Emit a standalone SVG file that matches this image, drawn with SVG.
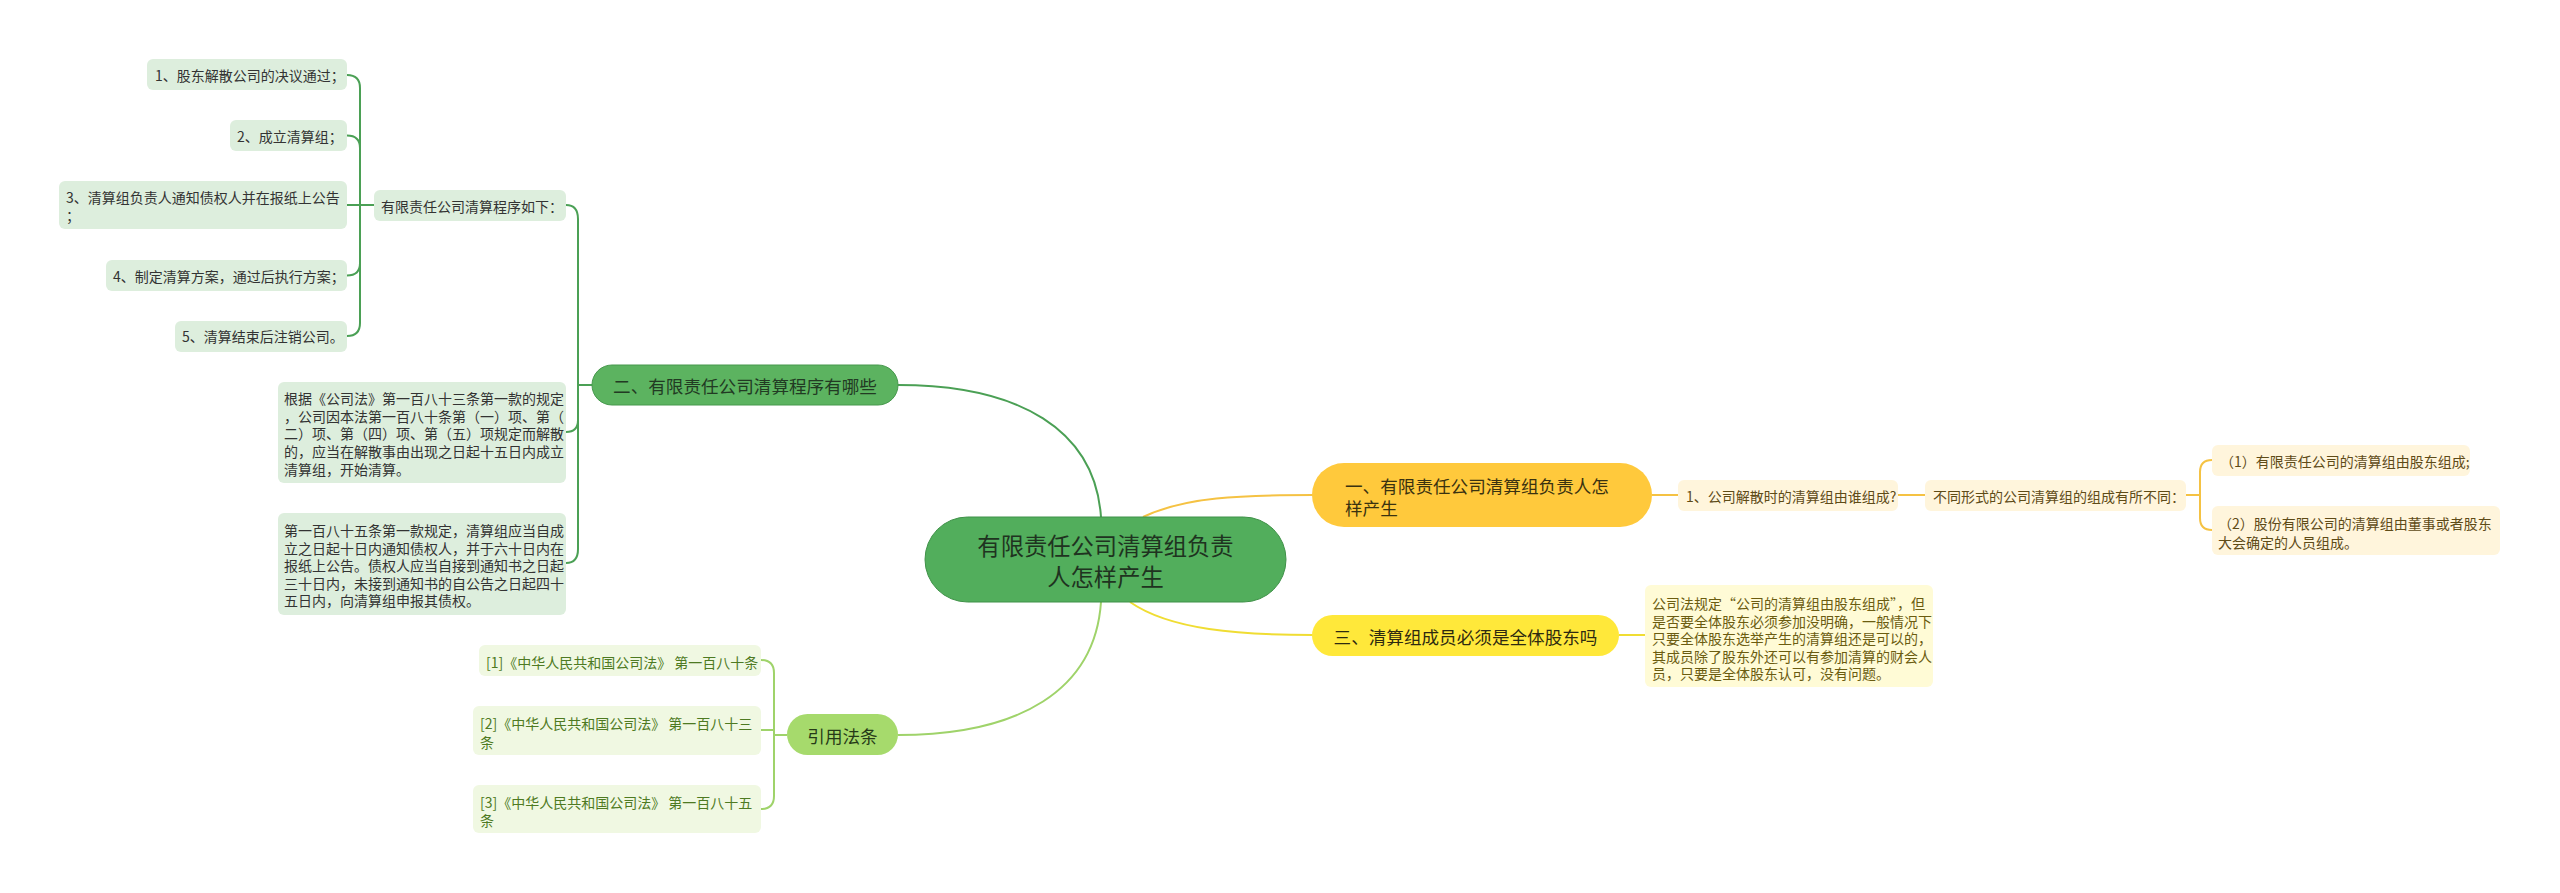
<svg xmlns="http://www.w3.org/2000/svg" width="2560" height="893" viewBox="0 0 2560 893">
<style>
text{font-family:"Noto Sans CJK SC","Noto Sans",sans-serif;dominant-baseline:central}
.s{font-size:14px}
.m{font-size:17.6px}
.g{fill:#333}
.lg{fill:#ddeedd}
.cr{fill:#fff5dc}
.ly{fill:#fffbd6}
.lgn{fill:#f0f8e2}
.tb{fill:#5e4b17}
.to{fill:#6b5c10}
.tg{fill:#4e7a22}
.cg{fill:none;stroke:#4ba055;stroke-width:2}
.co{fill:none;stroke:#f5c243;stroke-width:2}
.cy{fill:none;stroke:#f0dd33;stroke-width:2}
.cl{fill:none;stroke:#9fd36a;stroke-width:2}
</style>
<rect width="2560" height="893" fill="#ffffff"/>
<g id="connectors">
<path class="cg" d="M898,385 C1020,385 1095,430 1101,517"/>
<path class="cl" d="M898,735 C1020,735 1095,690 1101,602"/>
<path class="co" d="M1143,517 C1185,497 1240,495 1313,495"/>
<path class="cy" d="M1130,602 C1170,630 1240,635 1313,635"/>
<path class="cg" d="M578,385 L592,385 M566,205 Q578,205 578,219 L578,549 Q578,563 566,563 M566,432 Q578,432 578,420"/>
<path class="cg" d="M360,205 L374,205 M347,75 Q360,75 360,88 L360,323 Q360,336 347,336 M347,135.5 Q360,135.5 360,148 M347,275.5 Q360,275.5 360,263 M347,205 L360,205"/>
<path class="cl" d="M774,735 L787,735 M761,660 Q774,660 774,673 L774,796 Q774,809 761,809 M761,730 L774,730"/>
<path class="co" d="M1652,495 L1678,495 M1898,495 L1925,495 M2186,495 L2200,495 M2212,460 Q2200,460 2200,472 L2200,518 Q2200,530 2212,530"/>
<path class="cy" d="M1619,635 L1645,635"/>
</g>
<g id="root">
<rect x="925" y="517" width="361" height="85" rx="42.5" fill="#52ae5c" stroke="#3f9148" stroke-width="1"/>
<text x="1105.5" y="545" text-anchor="middle" font-size="23.3" fill="#1f3320">有限责任公司清算组负责</text>
<text x="1105.5" y="576" text-anchor="middle" font-size="23.3" fill="#1f3320">人怎样产生</text>
</g>
<g id="n2">
<rect x="592" y="365" width="306" height="40" rx="20" fill="#5cb360" stroke="#46984c" stroke-width="1"/>
<text class="m" x="745" y="385" text-anchor="middle" fill="#223a23">二、有限责任公司清算程序有哪些</text>
</g>
<g id="n2a">
<rect class="lg" x="374" y="190" width="192" height="31" rx="6"/>
<text class="s g" x="381" y="206">有限责任公司清算程序如下：</text>
</g>
<g id="n2a1">
<rect class="lg" x="147" y="59" width="200" height="31" rx="6"/>
<text class="s g" x="155" y="75">1、股东解散公司的决议通过；</text>
</g>
<g id="n2a2">
<rect class="lg" x="230" y="120" width="117" height="31" rx="6"/>
<text class="s g" x="237" y="136">2、成立清算组；</text>
</g>
<g id="n2a3">
<rect class="lg" x="59" y="181" width="288" height="48" rx="6"/>
<text class="s g" x="66" y="197">3、清算组负责人通知债权人并在报纸上公告</text>
<text class="s g" x="66" y="215">；</text>
</g>
<g id="n2a4">
<rect class="lg" x="106" y="260" width="241" height="31" rx="6"/>
<text class="s g" x="113" y="276">4、制定清算方案，通过后执行方案；</text>
</g>
<g id="n2a5">
<rect class="lg" x="175" y="321" width="172" height="31" rx="6"/>
<text class="s g" x="182" y="336">5、清算结束后注销公司。</text>
</g>
<g id="n2b">
<rect class="lg" x="278" y="382" width="288" height="101" rx="6"/>
<text class="s g" x="284" y="398">根据《公司法》第一百八十三条第一款的规定</text>
<text class="s g" x="284" y="416">，公司因本法第一百八十条第（一）项、第（</text>
<text class="s g" x="284" y="433">二）项、第（四）项、第（五）项规定而解散</text>
<text class="s g" x="284" y="451">的，应当在解散事由出现之日起十五日内成立</text>
<text class="s g" x="284" y="469">清算组，开始清算。</text>
</g>
<g id="n2c">
<rect class="lg" x="278" y="513" width="288" height="102" rx="6"/>
<text class="s g" x="284" y="530">第一百八十五条第一款规定，清算组应当自成</text>
<text class="s g" x="284" y="548">立之日起十日内通知债权人，并于六十日内在</text>
<text class="s g" x="284" y="565">报纸上公告。债权人应当自接到通知书之日起</text>
<text class="s g" x="284" y="583">三十日内，未接到通知书的自公告之日起四十</text>
<text class="s g" x="284" y="600">五日内，向清算组申报其债权。</text>
</g>
<g id="n1">
<rect x="1312" y="463" width="340" height="64" rx="32" fill="#ffc93c"/>
<text class="m" x="1345" y="485" fill="#3a3210">一、有限责任公司清算组负责人怎</text>
<text class="m" x="1345" y="507" fill="#3a3210">样产生</text>
</g>
<g id="n1a">
<rect class="cr" x="1678" y="480" width="220" height="31" rx="6"/>
<text class="s tb" x="1686" y="496">1、公司解散时的清算组由谁组成?</text>
</g>
<g id="n1b">
<rect class="cr" x="1925" y="480" width="261" height="31" rx="6"/>
<text class="s tb" x="1933" y="496">不同形式的公司清算组的组成有所不同：</text>
</g>
<g id="n1c">
<rect class="cr" x="2212" y="445" width="258" height="31" rx="6"/>
<text class="s tb" x="2220" y="461">（1）有限责任公司的清算组由股东组成;</text>
</g>
<g id="n1d">
<rect class="cr" x="2212" y="506" width="288" height="49" rx="6"/>
<text class="s tb" x="2218" y="523">（2）股份有限公司的清算组由董事或者股东</text>
<text class="s tb" x="2218" y="542">大会确定的人员组成。</text>
</g>
<g id="n3">
<rect x="1312" y="615" width="307" height="41" rx="20.5" fill="#ffe83a"/>
<text class="m" x="1465.5" y="636" text-anchor="middle" fill="#2e2a10">三、清算组成员必须是全体股东吗</text>
</g>
<g id="n3a">
<rect class="ly" x="1645" y="585" width="288" height="102" rx="6"/>
<text class="s to" x="1652" y="603">公司法规定“公司的清算组由股东组成”，但</text>
<text class="s to" x="1652" y="621">是否要全体股东必须参加没明确，一般情况下</text>
<text class="s to" x="1652" y="638">只要全体股东选举产生的清算组还是可以的，</text>
<text class="s to" x="1652" y="656">其成员除了股东外还可以有参加清算的财会人</text>
<text class="s to" x="1652" y="673">员，只要是全体股东认可，没有问题。</text>
</g>
<g id="n4">
<rect x="787" y="714" width="111" height="41" rx="20.5" fill="#a6da6c"/>
<text class="m" x="842.5" y="735" text-anchor="middle" fill="#263a18">引用法条</text>
</g>
<g id="n4a">
<rect class="lgn" x="479" y="645" width="282" height="31" rx="6"/>
<text class="s tg" x="486" y="662">[1]《中华人民共和国公司法》 第一百八十条</text>
</g>
<g id="n4b">
<rect class="lgn" x="473" y="706" width="288" height="49" rx="6"/>
<text class="s tg" x="480" y="723">[2]《中华人民共和国公司法》 第一百八十三</text>
<text class="s tg" x="480" y="742">条</text>
</g>
<g id="n4c">
<rect class="lgn" x="473" y="785" width="288" height="48" rx="6"/>
<text class="s tg" x="480" y="802">[3]《中华人民共和国公司法》 第一百八十五</text>
<text class="s tg" x="480" y="820">条</text>
</g>
</svg>
